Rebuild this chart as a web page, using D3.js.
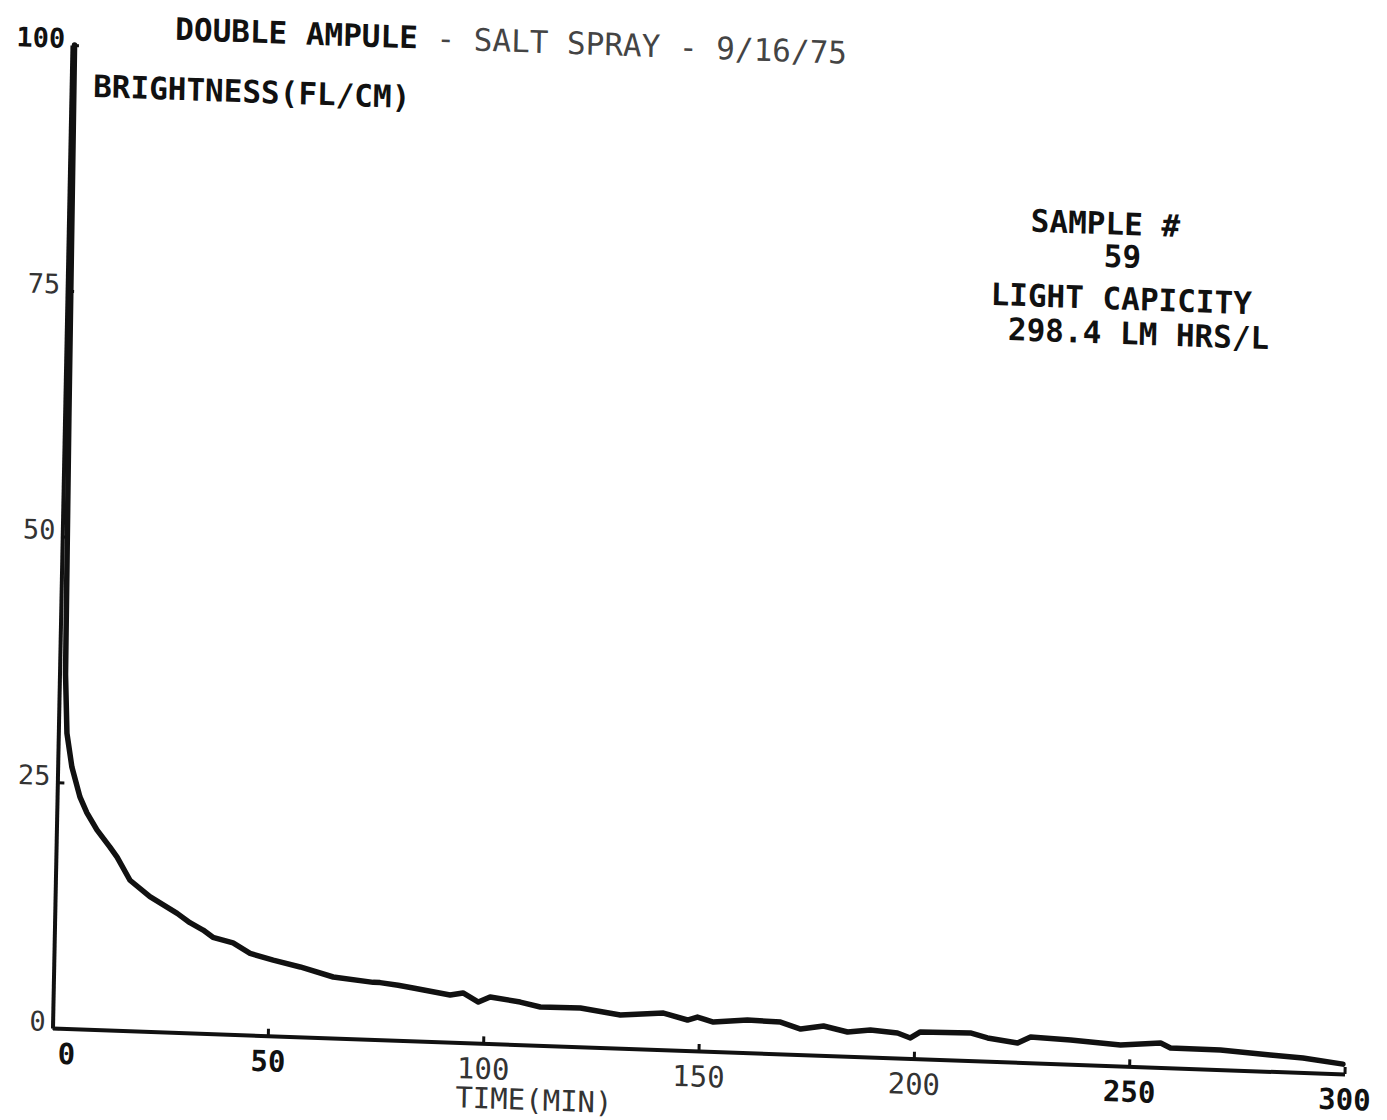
<!DOCTYPE html>
<html>
<head>
<meta charset="utf-8">
<script src="https://cdn.jsdelivr.net/npm/d3@7"></script>
<style>
  html, body { margin: 0; padding: 0; background: #fff; }
  svg { display: block; }
  text { font-family: "DejaVu Sans Mono", "Liberation Mono", monospace; }
</style>
</head>
<body>
<svg id="chart" width="1387" height="1120"></svg>
<script>
// ---- data ----
const timeMin = [0.6, 1.0, 1.4, 2.0, 3.3, 5.3, 7.0, 9.4, 12.5, 14.2, 17.3, 22.0, 28.4, 31.4, 34.5, 36.8, 41.5, 45.5, 50.9, 57.2, 64.9, 74.2, 75.8, 80, 83.5, 92.1, 95.1, 98.7, 101.4, 108.4, 113.1, 122.4, 131.7, 141.7, 147.3, 149.6, 153.3, 161.2, 168.9, 173.6, 178.9, 184.5, 189.8, 196.1, 199.1, 201.4, 213.0, 217.0, 224.0, 227.0, 236.3, 247.9, 257.2, 259.5, 271.1, 282.7, 290.3, 299.6];
const brightness = [100, 62, 36, 30.0, 26.6, 23.6, 22.0, 20.3, 18.6, 17.6, 15.3, 13.7, 12.1, 11.2, 10.5, 9.8, 9.3, 8.3, 7.7, 7.1, 6.2, 5.8, 5.8, 5.6, 5.37, 4.79, 5.05, 4.18, 4.74, 4.33, 3.90, 3.94, 3.38, 3.73, 3.11, 3.45, 3.0, 3.33, 3.24, 2.6, 2.99, 2.47, 2.76, 2.55, 2.09, 2.74, 2.82, 2.37, 1.96, 2.62, 2.46, 2.14, 2.48, 2.01, 1.99, 1.66, 1.47, 1.0];
const xTicks = [0, 50, 100, 150, 200, 250, 300];
const yTicks = [0, 25, 50, 75, 100];
const titleBold = "DOUBLE AMPULE";
const titleRest = " - SALT SPRAY - 9/16/75";
const yTitle = "BRIGHTNESS(FL/CM)";
const xTitle = "TIME(MIN)";
const noteLines = ["SAMPLE #", "59", "LIGHT CAPICITY", "298.4 LM HRS/L"];
const darkXTicks = [0, 50, 250, 300];

// ---- layout ----
const svg = d3.select("#chart");
// the scanned plot is slightly rotated: use an affine frame
const g = svg.append("g").attr("transform", "matrix(1,0.0356,-0.0198,1,52.5,1028)");

const x = d3.scaleLinear().domain([0, 300]).range([0, 1292]);
const y = d3.scaleLinear().domain([0, 100]).range([0, -983]);

// x axis
const xAxis = d3.axisBottom(x).tickValues(xTicks).tickSizeInner(-7).tickSizeOuter(0).tickPadding(15).tickFormat(d3.format("d"));
const gx = g.append("g").call(xAxis);
gx.select(".domain").attr("stroke", "#111").attr("stroke-width", 4);
gx.selectAll(".tick line").attr("stroke", "#111").attr("stroke-width", 3);
gx.selectAll(".tick text")
  .attr("fill", d => darkXTicks.includes(d) ? "#111" : "#333")
  .attr("font-weight", d => darkXTicks.includes(d) ? "bold" : "normal")
  .attr("font-size", 29)
  .attr("font-family", "DejaVu Sans Mono")
  .attr("dx", d => d === 0 ? 14 : 0);

// y axis
const yAxis = d3.axisLeft(y).tickValues(yTicks).tickSizeInner(-7).tickSizeOuter(0).tickPadding(7).tickFormat(d3.format("d"));
const gy = g.append("g").call(yAxis);
gy.select(".domain").attr("stroke", "#111").attr("stroke-width", 4);
gy.selectAll(".tick line").attr("stroke", "#111").attr("stroke-width", 3);
gy.selectAll(".tick text")
  .attr("fill", d => (d === 100 ? "#111" : "#333"))
  .attr("font-weight", d => (d === 100 ? "bold" : "normal"))
  .attr("font-size", 27)
  .attr("font-family", "DejaVu Sans Mono")
  .attr("dy", "0.1em");

// curve
const pts = timeMin.map((t, i) => [t, brightness[i]]);
const line = d3.line().x(d => x(d[0])).y(d => y(d[1])).curve(d3.curveLinear);
g.append("path").datum(pts)
  .attr("d", line)
  .attr("fill", "none")
  .attr("stroke", "#111")
  .attr("stroke-width", 5.5)
  .attr("stroke-linejoin", "round")
  .attr("stroke-linecap", "round");

// title
const title = g.append("text")
  .attr("x", x(23.9)).attr("y", y(100.9))
  .attr("font-size", 31);
title.append("tspan").text(titleBold).attr("font-weight", "bold").attr("fill", "#111");
title.append("tspan").text(titleRest).attr("fill", "#444");

// y title
g.append("text").attr("x", x(5.1)).attr("y", y(94.8))
  .attr("font-size", 31).attr("font-weight", "bold").attr("fill", "#111")
  .text(yTitle);

// x title
g.append("text").attr("x", x(93.8)).attr("y", 65)
  .attr("font-size", 29).attr("fill", "#333")
  .text(xTitle);

// annotation
const notePos = [[223.3, 84.5], [240.4, 81.2], [214.3, 76.9], [218.5, 73.4]];
noteLines.forEach((s, i) => {
  g.append("text").attr("x", x(notePos[i][0])).attr("y", y(notePos[i][1]))
    .attr("font-size", 31).attr("font-weight", "bold").attr("fill", "#111")
    .text(s);
});
</script>
</body>
</html>
